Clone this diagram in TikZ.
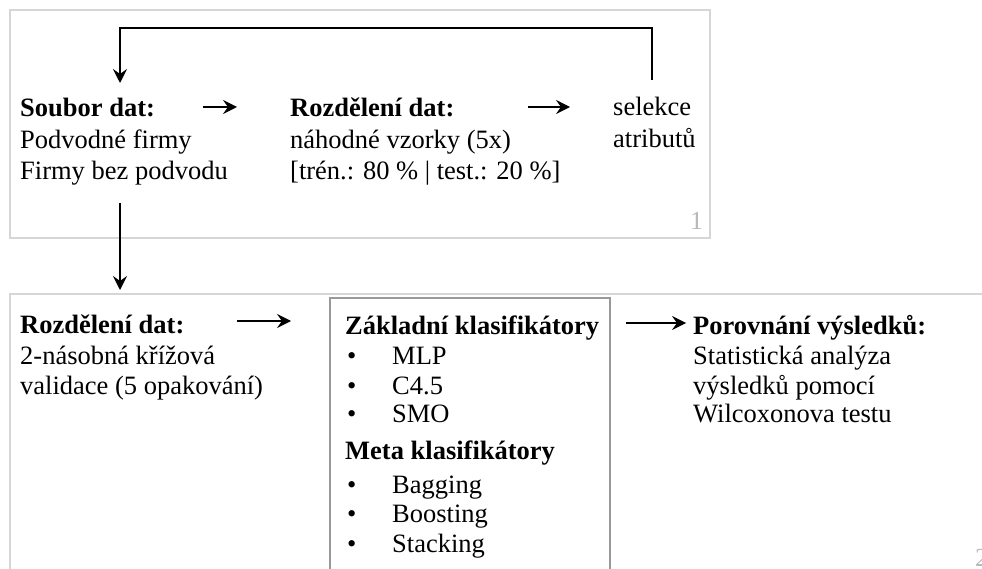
\documentclass[tikz,border=0pt]{standalone}
\usepackage{fontspec}
\setmainfont{Liberation Serif}
\usetikzlibrary{arrows.meta}
\begin{document}
\begin{tikzpicture}[x=1pt,y=-1pt,
  txt/.style={anchor=base west,inner sep=0pt,font=\fontsize{26.5}{30}\selectfont},
  hd/.style={txt,font=\fontsize{26.5}{30}\selectfont\bfseries},
  frame/.style={draw=black!16,line width=1.5pt},
  inner/.style={draw=black!40,line width=1.2pt},
  flow/.style={line width=1.4pt,-{Stealth[length=14pt,width=14pt,inset=5pt]}},
  pagenum/.style={anchor=base west,inner sep=0pt,text=black!28,font=\fontsize{26}{30}\selectfont}]
\useasboundingbox (0,0) rectangle (982,569);
% panel frames
\draw[frame] (10,10) rectangle (710,238);
\draw[frame] (990,294) -- (10,294) -- (10,580);
\draw[inner] (330,580) -- (330,298) -- (610,298) -- (610,580);
\node[pagenum] (p1) at (690,230) {1};
\node[pagenum] (p2) at (975,566) {2};

% upper row
\node[hd]  (sd)  at (20,117) {Soubor dat:};
\node[txt] (sd1) at (20,149) {Podvodné firmy};
\node[txt] (sd2) at (20,180) {Firmy bez podvodu};
\node[hd]  (rd)  at (290,117) {Rozdělení dat:};
\node[txt] (rd1) at (290,149) {náhodné vzorky (5x)};
\node[txt] (rd2) at (290,180) {[trén.: 80 \% | test.: 20 \%]};
\node[txt] (sa)  at (613,116) {selekce};
\node[txt] (sa1) at (613,148) {atributů};

\coordinate (a1s) at (203,107); \coordinate (a1e) at (237,107);
\coordinate (a2s) at (528,107); \coordinate (a2e) at (570,107);
\draw[flow] (a1s) -- (a1e);
\draw[flow] (a2s) -- (a2e);

% feedback loop from attribute selection back to the data set
\coordinate (ls) at (652,80);
\coordinate (le) at (120,83);
\draw[flow] (ls) -- (652,28) -- (120,28) -- (le);

% down to the lower panel
\coordinate (ds) at (120,203);
\coordinate (de) at (120,290);
\draw[flow] (ds) -- (de);

% lower row
\node[hd]  (cv)  at (20,333) {Rozdělení dat:};
\node[txt] (cv1) at (20,364) {2-násobná křížová};
\node[txt] (cv2) at (20,394) {validace (5 opakování)};

\node[hd]  (zk) at (345,334) {Základní klasifikátory};
\foreach \n/\t/\y in {b1/MLP/364,b2/C4.5/394,b3/SMO/422,m1/Bagging/493,m2/Boosting/522,m3/Stacking/552}{
  \node[txt] at (347,\y) {•};
  \node[txt] (\n) at (392,\y) {\t};
}
\node[hd]  (mk) at (345,459) {Meta klasifikátory};

\node[hd]  (pv)  at (693,334) {Porovnání výsledků:};
\node[txt] (pv1) at (693,364) {Statistická analýza};
\node[txt] (pv2) at (693,394) {výsledků pomocí};
\node[txt] (pv3) at (693,422) {Wilcoxonova testu};

\coordinate (a3s) at (237,321); \coordinate (a3e) at (291,321);
\coordinate (a4s) at (626,323); \coordinate (a4e) at (686,323);
\draw[flow] (a3s) -- (a3e);
\draw[flow] (a4s) -- (a4e);
\end{tikzpicture}
\end{document}
